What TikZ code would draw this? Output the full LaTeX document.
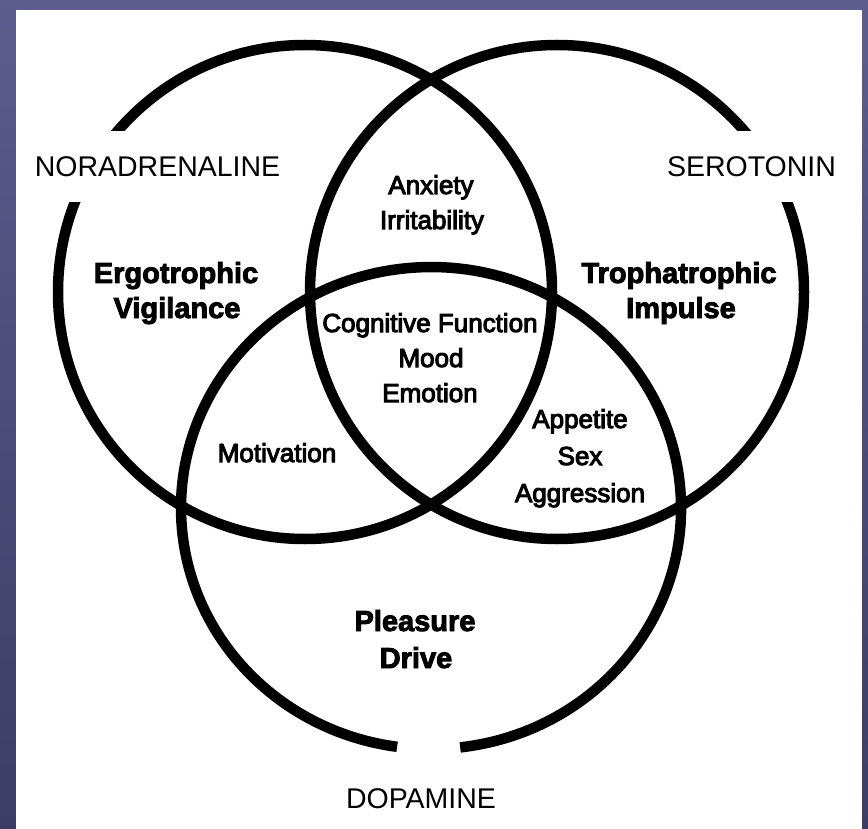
\documentclass[tikz,border=0pt]{standalone}
\usepackage{fontspec}
\setmainfont{Liberation Sans}
\definecolor{bgtop}{RGB}{92,92,142}
\definecolor{bgbot}{RGB}{60,60,100}
\newcommand\strokeon[1]{\special{pdf:literal direct 2 Tr #1 w}}
\newcommand\strokeoff{\special{pdf:literal direct 0 Tr 0.4 w}}
\begin{document}
\begin{tikzpicture}[x=1pt,y=-1pt,
  ring/.style={line width=10.5pt,black},
  caplabel/.style={font=\fontsize{28.5}{30}\selectfont, text height=20.5pt, text depth=0pt, inner xsep=6pt, anchor=base},
  gapbox/.style={fill=white},
  biglabel/.style={font=\bfseries\fontsize{29}{35}\selectfont, anchor=base, inner sep=0pt,
    execute at begin node=\strokeon{0.9}, execute at end node=\strokeoff},
  smalllabel/.style={font=\fontsize{26}{35}\selectfont, anchor=base, inner sep=0pt,
    execute at begin node=\strokeon{1.0}, execute at end node=\strokeoff}]
\useasboundingbox (0,0) rectangle (868,829);
\shade[top color=bgtop,bottom color=bgbot] (0,0) rectangle (868,829);
\fill[white] (16,10) rectangle (862,829);
% circles
\draw[ring] (305,292) circle[radius=247pt];
\draw[ring] (557,292) circle[radius=247pt];
% dopamine ring, open at the bottom
\coordinate (dopstart) at (460.2,747.4);
\draw[ring] (dopstart) arc[start angle=276.7, end angle=622.2, x radius=250pt, y radius=241pt];
% outer labels (their white boxes open the rings)
\node[caplabel,gapbox,inner ysep=25pt] (nor) at (157.5,177) {NORADRENALINE};
\node[caplabel,gapbox,inner ysep=25pt] (ser) at (751.5,177) {SEROTONIN};
\node[caplabel] (dop) at (421,808) {DOPAMINE};
% single-set labels
\node[biglabel] (erg1) at (176,283) {Ergotrophic};
\node[biglabel] (erg2) at (177,318) {Vigilance};
\node[biglabel] (tro1) at (679,283) {Trophatrophic};
\node[biglabel] (tro2) at (681,318) {Impulse};
\node[biglabel] (ple1) at (415,631) {Pleasure};
\node[biglabel] (ple2) at (416,668) {Drive};
% overlap labels
\node[smalllabel] (anx1) at (431,194) {Anxiety};
\node[smalllabel] (anx2) at (432,229) {Irritability};
\node[smalllabel] (cog1) at (430,332) {Cognitive Function};
\node[smalllabel] (cog2) at (431,367) {Mood};
\node[smalllabel] (cog3) at (430,402) {Emotion};
\node[smalllabel] (mot) at (277,462) {Motivation};
\node[smalllabel] (app1) at (580,428) {Appetite};
\node[smalllabel] (app2) at (580,465) {Sex};
\node[smalllabel] (app3) at (580,502) {Aggression};
\end{tikzpicture}
\end{document}
